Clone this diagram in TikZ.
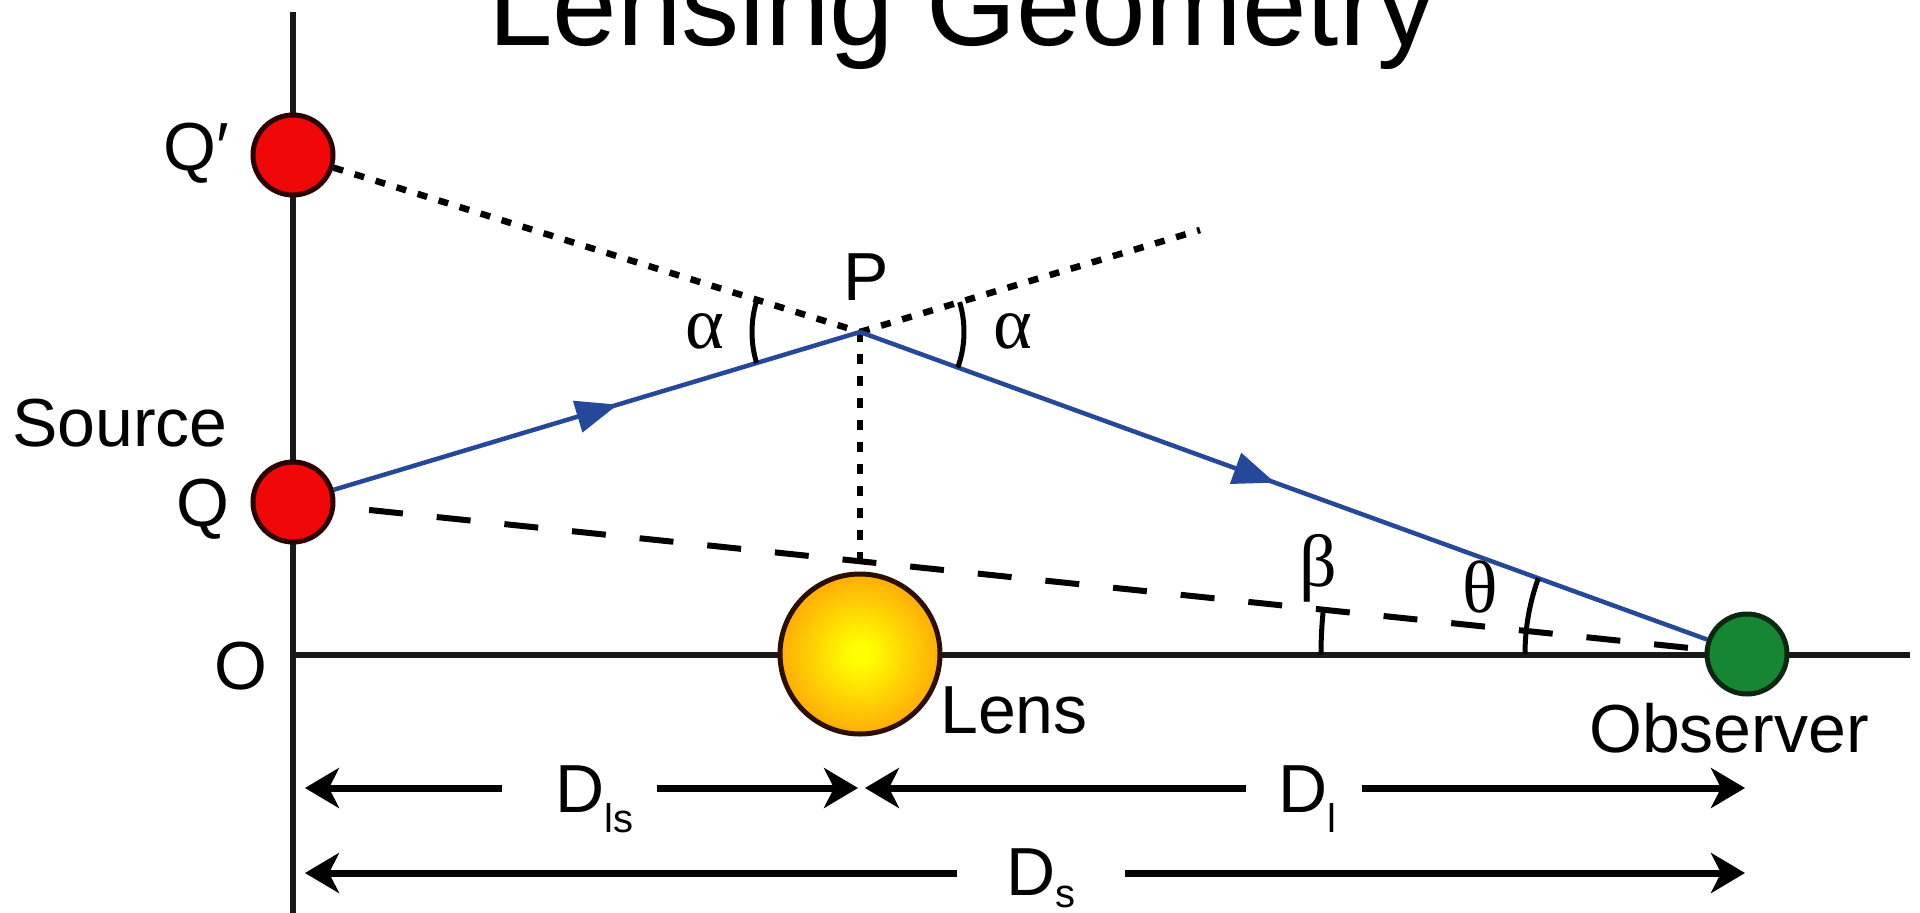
\documentclass[tikz,border=0pt]{standalone}
\usepackage{fontspec}
\setmainfont{Liberation Sans}
\newfontfamily\greekfont{Liberation Serif}
\usetikzlibrary{arrows.meta,decorations.markings,angles,calc}
\definecolor{raycol}{RGB}{38,72,155}
\definecolor{srcred}{RGB}{240,8,8}
\definecolor{srcedge}{RGB}{45,0,0}
\definecolor{obsgreen}{RGB}{22,134,52}
\definecolor{obsedge}{RGB}{10,40,15}
\definecolor{lensY}{RGB}{255,255,0}
\definecolor{lensO}{RGB}{255,145,10}
\definecolor{lensedge}{RGB}{45,15,0}
\pgfdeclareradialshading{lensshade}{\pgfpoint{0bp}{0bp}}{color(0bp)=(lensY); color(3bp)=(lensY); color(32bp)=(lensO); color(50bp)=(lensO)}
\begin{document}
\begin{tikzpicture}[x=1pt,y=1pt,
  lbl/.style={inner sep=0pt, font=\fontsize{68}{80}\selectfont},
  grk/.style={inner sep=0pt, font=\greekfont\fontsize{74}{80}\selectfont},
  axisline/.style={line width=6pt, black!90},
  ray/.style={line width=4.5pt, raycol},
  rayA/.style={ray, postaction={decorate}, decoration={markings, mark=at position 0.54 with {\arrow[raycol]{Triangle[length=42pt,width=32pt]}}}},
  rayB/.style={ray, postaction={decorate}, decoration={markings, mark=at position 0.49 with {\arrow[raycol]{Triangle[length=42pt,width=32pt]}}}},
  dotline/.style={line width=6.5pt, dash pattern=on 10pt off 12pt},
  dashline/.style={line width=6pt, dash pattern=on 34pt off 34pt, dash phase=34pt},
  anglearc/.style={draw, line width=5pt},
  dimarrow/.style={line width=7pt, -{Stealth[length=34pt,width=40pt,inset=10pt]}},
  srcball/.style={circle, minimum size=80pt, inner sep=0pt, line width=5pt, draw=srcedge, fill=srcred},
]
\useasboundingbox (0,0) rectangle (1920,-913);
\begin{scope}
\clip (0,0) rectangle (1920,-913);
\node[anchor=base, inner sep=0pt, font=\fontsize{116}{130}\selectfont] (title) at (962,-45) {Lensing Geometry};
\end{scope}

% axes
\coordinate (Ytop) at (293,-12);
\coordinate (Ybot) at (293,-913);
\coordinate (O) at (293,-655);
\coordinate (Xend) at (1910,-655);
\draw[axisline] (Ytop) -- (Ybot);
\draw[axisline] (O) -- (Xend);

% bodies
\node[srcball] (Qp) at (293,-155) {};
\node[srcball] (Q) at (293,-502) {};
\node[circle, minimum size=160pt, inner sep=0pt, line width=5pt, draw=lensedge, shading=lensshade] (Lens) at (860,-654) {};
\node[circle, minimum size=80pt, inner sep=0pt, line width=5pt, draw=obsedge, fill=obsgreen] (Obs) at (1747,-654) {};

\coordinate (P) at (860,-332);
\coordinate (Ext) at (1200,-230);

% rays
\draw[dashline] (Q) -- (Obs);
\draw[dotline] (Qp) -- (P);
\draw[dotline] (P) -- (Ext);
\draw[dotline] (P) -- (Lens);
\draw[rayA] (Q) -- (P);
\draw[rayB] (P) -- (Obs);

% angle arcs
\pic[anglearc, angle radius=108pt] {angle=Qp--P--Q};
\pic[anglearc, angle radius=104pt] {angle=Obs--P--Ext};
\pic[anglearc, angle radius=426pt] {angle=Q--Obs--O};
\pic[anglearc, angle radius=222pt] {angle=P--Obs--O};

% labels
\node[lbl, anchor=base west] (lQp) at (163,-170) {Q′};
\node[lbl, anchor=base west] (lSource) at (12,-446) {Source};
\node[lbl, anchor=base west] (lQ) at (176,-526) {Q};
\node[lbl, anchor=base east] (lO) at (268,-689) {O};
\node[lbl, anchor=base west] (lP) at (843,-300) {P};
\node[lbl, anchor=base west] (lLens) at (940,-733) {Lens};
\node[lbl, anchor=base] (lObs) at (1729,-752) {Observer};
\node[grk, anchor=base] (la1) at (705,-348) {α};
\node[grk, anchor=base] (la2) at (1013,-348) {α};
\node[grk, anchor=base] (lb) at (1318,-586) {β};
\node[grk, anchor=base] (lt) at (1480,-612) {θ};

% distances
\node[lbl, anchor=base west] (Dls) at (555,-812) {D\raisebox{-20pt}{\fontsize{40}{40}\selectfont ls}};
\node[lbl, anchor=base west] (Dl) at (1278,-812) {D\raisebox{-20pt}{\fontsize{40}{40}\selectfont l}};
\node[lbl, anchor=base west] (Ds) at (1006,-895) {D\raisebox{-12pt}{\fontsize{40}{40}\selectfont s}};

\coordinate (u1) at (502,-788);
\coordinate (u1t) at (305,-788);
\coordinate (u2) at (657,-788);
\coordinate (u2t) at (858,-788);
\coordinate (u3) at (1246,-788);
\coordinate (u3t) at (865,-788);
\coordinate (u4) at (1362,-788);
\coordinate (u4t) at (1745,-788);
\coordinate (w1) at (957,-873);
\coordinate (w1t) at (305,-873);
\coordinate (w2) at (1125,-873);
\coordinate (w2t) at (1745,-873);
\draw[dimarrow] (u1) -- (u1t);
\draw[dimarrow] (u2) -- (u2t);
\draw[dimarrow] (u3) -- (u3t);
\draw[dimarrow] (u4) -- (u4t);
\draw[dimarrow] (w1) -- (w1t);
\draw[dimarrow] (w2) -- (w2t);
\end{tikzpicture}
\end{document}
